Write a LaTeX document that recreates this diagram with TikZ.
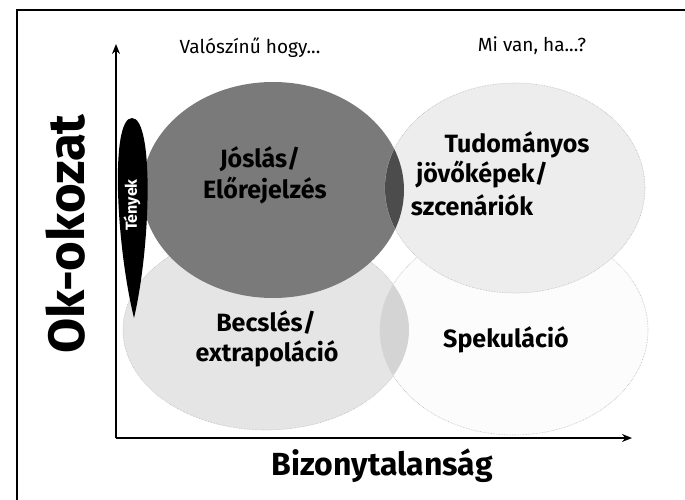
\documentclass[tikz,border=0pt]{standalone}
\usepackage{fontspec}
\setmainfont{Fira Sans}
\usetikzlibrary{shapes.geometric,arrows.meta}
\begin{document}
\begin{tikzpicture}[x=1pt,y=-1pt,
  bubble/.style={ellipse, draw=gray!55, densely dotted, line width=0.6pt, inner sep=0pt},
  lbl/.style={font=\bfseries\fontsize{25}{25}\selectfont, inner sep=0pt},
  small/.style={font=\fontsize{19}{19}\selectfont, inner sep=0pt},
  axis/.style={line width=2.2pt, -{Stealth[length=10pt,width=8pt]}}
]
\clip (0,0) rectangle (685,500);
\fill[white] (0,0) rectangle (685,500);
\draw[line width=1.8pt] (17,10) rectangle (700,520);

% ellipses
\node[bubble, fill=black!10, minimum width=286pt, minimum height=200pt] (ll) at (266,330) {};
\node[bubble, fill=black!1, minimum width=268pt, minimum height=210pt] (lr) at (514,330) {};
\begin{scope}
  \clip (266,330) ellipse [x radius=143pt, y radius=100pt];
  \fill[black!17] (514,330) ellipse [x radius=134pt, y radius=105pt];
\end{scope}
\node[ellipse, inner sep=0pt, fill=black!52, minimum width=262pt, minimum height=216pt] (dk) at (273,190) {};
\node[bubble, fill=black!7, minimum width=260pt, minimum height=210pt] (ur) at (515,188) {};
\begin{scope}
  \clip (273,190) ellipse [x radius=131pt, y radius=108pt];
  \fill[black!70] (515,188) ellipse [x radius=130pt, y radius=105pt];
\end{scope}
% Tenyek teardrop
\fill[black] (132,118) .. controls (154,118) and (151,245) .. (134,318)
             .. controls (116,245) and (110,118) .. (132,118) -- cycle;

% axes
\coordinate (o) at (116,438);
\coordinate (ytip) at (116,44);
\coordinate (xtip) at (632,438);
\draw[axis] (o) -- (ytip);
\draw[axis] (o) -- (xtip);

% texts
\node[font=\bfseries\fontsize{51}{51}\selectfont, rotate=90, inner sep=0pt] (yl) at (66,234) {Ok-okozat};
\node[font=\bfseries\fontsize{32}{32}\selectfont, inner sep=0pt] (xl) at (382,466) {Bizonytalanság};
\node[small] (t1) at (250,48) {Valószínű hogy...};
\node[small] (t2) at (532,46) {Mi van, ha...?};
\node[font=\bfseries\fontsize{16}{16}\selectfont, rotate=90, text=white, inner sep=0pt] (tt) at (132,205) {Tények};

\node[lbl] (j1) at (260,159) {Jóslás/};
\node[lbl] (j2) at (265,191) {Előrejelzés};
\node[lbl] (u1) at (517,145) {Tudományos};
\node[lbl] (u2) at (482,175) {jövőképek/};
\node[lbl] (u3) at (472,205) {szcenáriók};
\node[lbl] (b1) at (266,322) {Becslés/};
\node[lbl] (b2) at (267,354) {extrapoláció};
\node[lbl] (s1) at (506,340) {Spekuláció};
\end{tikzpicture}
\end{document}
